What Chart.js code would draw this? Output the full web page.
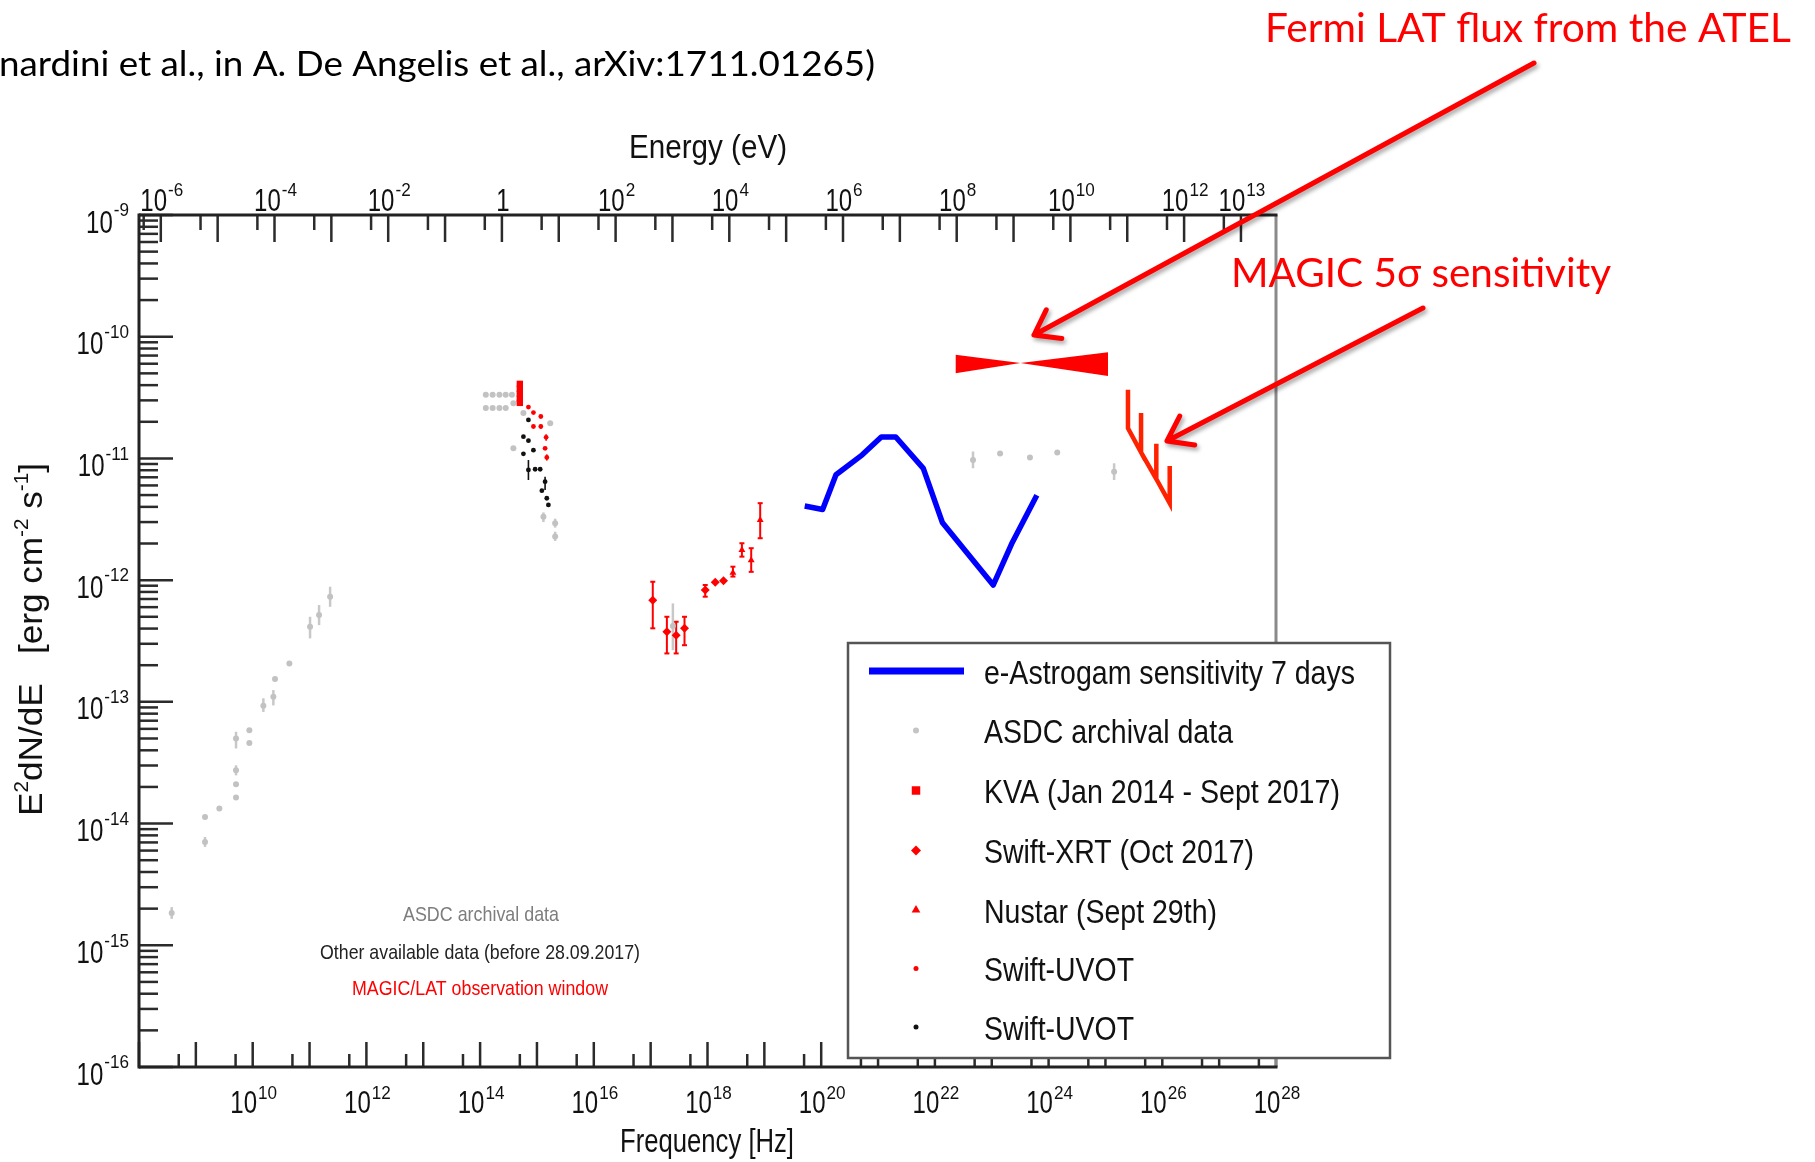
<!DOCTYPE html>
<html>
<head>
<meta charset="utf-8">
<script src="https://cdn.jsdelivr.net/npm/chart.js@4.4.0/dist/chart.umd.min.js"></script>
<style>
  html, body { margin: 0; padding: 0; background: #fff; }
  canvas { display: block; }
</style>
</head>
<body>
<canvas id="sed" width="1815" height="1162"></canvas>
<script>
  // ---- data (frequency in Hz, E^2 dN/dE in erg cm^-2 s^-1) ----

  // ASDC archival data (grey)
  const asdcNu = [2.30e11, 1.47e11, 1.02e11, 4.42e10, 2.47e10, 2.31e10, 1.54e10, 8.73e9, 8.73e9, 5.09e9, 5.09e9, 5.09e9, 5.09e9, 2.59e9, 1.45e9, 1.45e9, 3.76e8,
                  1.26e14, 1.66e14, 2.19e14, 2.82e14, 3.63e14, 1.26e14, 1.66e14, 2.19e14, 2.82e14, 3.85e14, 5.78e14, 1.71e15, 3.85e14, 1.30e15, 2.09e15, 2.09e15,
                  2.46e17,
                  4.68e22, 1.40e23, 4.70e23, 1.42e24, 1.42e25];
  const asdcF = [7.29e-13, 5.16e-13, 4.14e-13, 2.07e-13, 1.54e-13, 1.10e-13, 9.27e-14, 5.85e-14, 4.60e-14, 5.00e-14, 2.74e-14, 2.10e-14, 1.64e-14, 1.33e-14, 1.13e-14, 7.06e-15, 1.84e-15,
                 3.33e-11, 3.33e-11, 3.33e-11, 3.33e-11, 3.33e-11, 2.59e-11, 2.59e-11, 2.59e-11, 2.59e-11, 2.84e-11, 2.36e-11, 1.95e-11, 1.21e-11, 3.32e-12, 2.93e-12, 2.28e-12,
                 4.19e-13,
                 9.73e-12, 1.10e-11, 1.02e-11, 1.12e-11, 7.78e-12];
  const asdcLo = [6.04e-13, 4.27e-13, 3.32e-13, null, null, 9.35e-14, 8.26e-14, null, null, 4.14e-14, 2.49e-14, null, null, null, null, 6.43e-15, 1.65e-15,
                  null, null, null, null, null, null, null, null, null, null, null, null, null, 3.00e-12, 2.70e-12, 2.10e-12,
                  2.66e-13,
                  8.30e-12, null, null, null, 6.65e-12];
  const asdcHi = [8.83e-13, 6.24e-13, 5.00e-13, null, null, 1.25e-13, 1.07e-13, null, null, 5.68e-14, 3.01e-14, null, null, null, null, 7.76e-15, 2.06e-15,
                  null, null, null, null, null, null, null, null, null, null, null, null, null, 3.60e-12, 3.20e-12, 2.50e-12,
                  6.44e-13,
                  1.14e-11, null, null, null, 9.12e-12];

  // KVA (Jan 2014 - Sept 2017)
  const kvaNu = [5.00e14, 5.00e14, 5.00e14, 5.00e14, 5.00e14];
  const kvaF = [4.10e-11, 3.73e-11, 3.40e-11, 3.09e-11, 2.86e-11];

  // Swift-XRT (Oct 2017)
  const xrtNu = [1.09e17, 1.93e17, 2.81e17, 3.94e17, 9.12e17, 1.37e18, 1.91e18];
  const xrtF = [6.85e-13, 3.77e-13, 3.53e-13, 4.02e-13, 8.30e-13, 9.59e-13, 9.89e-13];
  const xrtLo = [4.02e-13, 2.50e-13, 2.50e-13, 2.92e-13, 7.31e-13, null, null];
  const xrtHi = [9.70e-13, 5.00e-13, 4.55e-13, 5.00e-13, 9.12e-13, null, null];

  // Nustar (Sept 29th)
  const nustarNu = [2.80e18, 4.03e18, 5.87e18, 8.45e18];
  const nustarF = [1.15e-12, 1.77e-12, 1.46e-12, 3.12e-12];
  const nustarLo = [1.07e-12, 1.56e-12, 1.17e-12, 2.21e-12];
  const nustarHi = [1.29e-12, 2.01e-12, 1.83e-12, 4.29e-12];

  // Swift-UVOT (red, observation window)
  const uvotRedNu = [7.08e14, 8.67e14, 1.17e15, 1.17e15, 8.67e14, 1.45e15, 1.39e15, 1.49e15];
  const uvotRedF = [2.64e-11, 2.38e-11, 2.21e-11, 1.83e-11, 1.83e-11, 1.49e-11, 1.21e-11, 1.02e-11];
  const uvotRedLo = [null, null, null, 1.76e-11, null, 1.40e-11, null, 9.60e-12];
  const uvotRedHi = [null, null, null, 1.90e-11, null, 1.58e-11, null, 1.08e-11];

  // Swift-UVOT (black, earlier data)
  const uvotBlkNu = [7.08e14, 5.78e14, 7.08e14, 8.67e14, 5.78e14, 7.08e14, 9.29e14, 1.14e15, 1.39e15, 1.22e15, 1.49e15, 1.59e15];
  const uvotBlkF = [2.07e-11, 1.51e-11, 1.40e-11, 1.17e-11, 1.09e-11, 8.04e-12, 8.15e-12, 8.15e-12, 6.44e-12, 5.43e-12, 4.71e-12, 4.15e-12];
  const uvotBlkLo = [null, null, null, null, null, 6.65e-12, null, null, 5.51e-12, null, null, null];
  const uvotBlkHi = [null, null, null, null, null, 9.70e-12, null, null, 7.08e-12, null, null, null];

  // e-Astrogam sensitivity 7 days
  const astroNu = [5.13e19, 1.06e20, 1.82e20, 5.27e20, 1.14e21, 2.05e21, 6.25e21, 1.35e22, 1.06e23, 2.30e23, 6.21e23];
  const astroF = [4.06e-12, 3.81e-12, 7.35e-12, 1.07e-11, 1.50e-11, 1.50e-11, 8.28e-12, 2.98e-12, 9.12e-13, 2.04e-12, 4.99e-12];

  // Fermi LAT butterfly
  const fermiNu = [2.30e22, 3.20e23, 1.11e25];
  const fermiUp = [7.10e-11, 6.07e-11, 7.46e-11];
  const fermiLow = [5.02e-11, 6.07e-11, 4.76e-11];

  // MAGIC 5 sigma sensitivity
  const magicNu = [2.49e25, 4.23e25, 7.85e25, 1.35e26];
  const magicTop = [3.66e-11, 2.36e-11, 1.32e-11, 8.67e-12];
  const magicBottom = [1.77e-11, 1.12e-11, 6.78e-12, 4.29e-12];

  // axis labels
  const yLabelExp = [-9, -10, -11, -12, -13, -14, -15, -16];
  const xLabelExp = [10, 12, 14, 16, 18, 20, 22, 24, 26, 28];
  const eLabelExp = [-6, -4, -2, 0, 2, 4, 6, 8, 10, 12, 13];

  const legendLabels = ['e-Astrogam sensitivity 7 days', 'ASDC archival data', 'KVA (Jan 2014 - Sept 2017)',
                        'Swift-XRT (Oct 2017)', 'Nustar (Sept 29th)', 'Swift-UVOT', 'Swift-UVOT'];

  const EV_TO_HZ = 2.418e14;
  const ROOT_FONT = '"Liberation Sans", Arial, sans-serif';
  const NOTE_FONT = 'Lato, "Open Sans", sans-serif';

  const pts = (nu, f, lo, hi) => nu.map((v, i) => ({ x: v, y: f[i], lo: lo ? lo[i] : null, hi: hi ? hi[i] : null }));

  // MAGIC sawtooth: verticals hanging from the top values down to the diagonal
  const magicPath = [];
  magicNu.forEach((v, i) => {
    if (i === 0) {
      magicPath.push({ x: v, y: magicTop[i] }, { x: v, y: magicBottom[i] });
    } else {
      magicPath.push({ x: v, y: magicBottom[i] }, { x: v, y: magicTop[i] });
      if (i < magicNu.length - 1) magicPath.push({ x: v, y: magicBottom[i] });
    }
  });

  // text helper: horizontal squeeze like the stretched ROOT picture
  function txt(ctx, s, x, y, o) {
    ctx.save();
    ctx.font = o.font;
    ctx.fillStyle = o.color || '#111';
    ctx.textAlign = 'left';
    ctx.textBaseline = 'alphabetic';
    const w = ctx.measureText(s).width;
    const sx = o.width ? o.width / w : (o.sx || 1);
    let x0 = x;
    if (o.align === 'center') x0 = x - w * sx / 2;
    if (o.align === 'right') x0 = x - w * sx;
    ctx.translate(x0, y);
    ctx.scale(sx, 1);
    ctx.fillText(s, 0, 0);
    ctx.restore();
  }

  // "10^n" label, base digits centred at cy
  function powLabel(ctx, exp, xa, cy, align, raise) {
    ctx.save();
    const bf = '32px ' + ROOT_FONT, ef = '19px ' + ROOT_FONT;
    const bsx = 0.75, esx = 0.9;
    if (exp === 0) {
      txt(ctx, '1', xa, cy + 11.5, { font: bf, sx: bsx, align: align });
      ctx.restore();
      return;
    }
    ctx.font = bf;
    const wb = ctx.measureText('10').width * bsx;
    ctx.font = ef;
    const es = String(exp);
    const we = ctx.measureText(es).width * esx;
    const total = wb + 1 + we;
    const x0 = align === 'right' ? xa - total : xa - total / 2;
    txt(ctx, '10', x0, cy + 11.5, { font: bf, sx: bsx });
    txt(ctx, es, x0 + wb + 1, cy - raise + 6.8, { font: ef, sx: esx });
    ctx.restore();
  }

  function seg(ctx, x1, y1, x2, y2) {
    ctx.beginPath(); ctx.moveTo(x1, y1); ctx.lineTo(x2, y2); ctx.stroke();
  }

  function arrow(ctx, x1, y1, x2, y2) {
    const ang = Math.atan2(y1 - y2, x1 - x2);
    const L = 28, h = 0.62;
    ctx.beginPath();
    ctx.moveTo(x1, y1); ctx.lineTo(x2, y2);
    ctx.moveTo(x2 + L * Math.cos(ang - h), y2 + L * Math.sin(ang - h));
    ctx.lineTo(x2, y2);
    ctx.lineTo(x2 + L * Math.cos(ang + h), y2 + L * Math.sin(ang + h));
    ctx.stroke();
  }

  // error bars, drawn under the markers
  const errorBars = {
    id: 'errorBars',
    beforeDatasetsDraw(chart) {
      const { ctx, chartArea: a, scales: { x, y } } = chart;
      ctx.save();
      ctx.beginPath(); ctx.rect(a.left, a.top, a.right - a.left, a.bottom - a.top); ctx.clip();
      chart.data.datasets.forEach((ds) => {
        if (!ds.errColor) return;
        ctx.strokeStyle = ds.errColor;
        ctx.lineWidth = ds.errWidth || 2;
        ds.data.forEach((p) => {
          if (p.lo == null) return;
          const px = x.getPixelForValue(p.x);
          const y1 = y.getPixelForValue(p.lo), y2 = y.getPixelForValue(p.hi);
          seg(ctx, px, y1, px, y2);
          if (ds.errCap) { seg(ctx, px - 2.5, y1, px + 2.5, y1); seg(ctx, px - 2.5, y2, px + 2.5, y2); }
        });
      });
      ctx.restore();
    }
  };

  // ROOT-like frame, ticks, labels, legend and the slide annotations
  const decor = {
    id: 'decor',
    afterDatasetsDraw(chart) {
      const { ctx, chartArea: a, scales: { x, y } } = chart;
      ctx.save();
      ctx.lineCap = 'butt';

      // left axis ticks (inside)
      ctx.strokeStyle = '#2b2b2b'; ctx.lineWidth = 2.5;
      for (let e = -16; e <= -9; e++) {
        for (let m = 1; m <= 9; m++) {
          const v = m * Math.pow(10, e);
          if (v > 1.0001e-9) continue;
          const py = y.getPixelForValue(v);
          seg(ctx, a.left, py, a.left + (m === 1 ? 34 : 19), py);
        }
      }
      // bottom ticks
      for (let e = 8; e <= 28; e++) {
        const px = x.getPixelForValue(Math.pow(10, e));
        seg(ctx, px, a.bottom, px, a.bottom - 25);
        if (e < 28) {
          const ps = x.getPixelForValue(5 * Math.pow(10, e));
          seg(ctx, ps, a.bottom, ps, a.bottom - 13);
        }
      }
      // top (energy) ticks
      for (let k = -7; k <= 14; k++) {
        [1, 5].forEach((m) => {
          const nu = m * Math.pow(10, k) * EV_TO_HZ;
          if (nu < 1e8 || nu > 1e28) return;
          const px = x.getPixelForValue(nu);
          seg(ctx, px, a.top, px, a.top + (m === 1 ? 27 : 15));
        });
      }

      // frame
      ctx.lineWidth = 3;
      ctx.strokeStyle = '#8a8a8a';
      seg(ctx, a.right, a.top, a.right, a.bottom);
      ctx.strokeStyle = '#222';
      seg(ctx, a.left, a.top, a.right + 1.5, a.top);
      seg(ctx, a.left, a.bottom, a.right + 1.5, a.bottom);
      seg(ctx, a.left, a.top - 1.5, a.left, a.bottom + 1.5);

      // tick labels
      yLabelExp.forEach((e) => powLabel(ctx, e, 129, y.getPixelForValue(Math.pow(10, e)) + 6, 'right', 11.5));
      xLabelExp.forEach((e) => powLabel(ctx, e, x.getPixelForValue(Math.pow(10, e)) + 1, 1101, 'center', 8.5));
      eLabelExp.forEach((e) => powLabel(ctx, e, x.getPixelForValue(Math.pow(10, e) * EV_TO_HZ) + 1, 199, 'center', 10));

      // axis titles
      txt(ctx, 'Energy (eV)', 629, 158, { font: '34px ' + ROOT_FONT, width: 158 });
      txt(ctx, 'Frequency [Hz]', 620, 1152, { font: '34px ' + ROOT_FONT, width: 174 });

      // rotated y title with superscripts
      const runs = [['E', 0], ['2', 1], ['dN/dE', 0], ['   [erg cm', 0], ['-2', 1], [' s', 0], ['-1', 1], [']', 0]];
      const rf = '34px ' + ROOT_FONT, sf = '20px ' + ROOT_FONT;
      let tot = 0;
      runs.forEach((r) => { ctx.font = r[1] ? sf : rf; tot += ctx.measureText(r[0]).width; });
      ctx.save();
      ctx.translate(42, 816);
      ctx.rotate(-Math.PI / 2);
      ctx.scale(353 / tot, 1);
      ctx.fillStyle = '#111';
      let cx = 0;
      runs.forEach((r) => {
        ctx.font = r[1] ? sf : rf;
        ctx.fillText(r[0], cx, r[1] ? -14 : 0);
        cx += ctx.measureText(r[0]).width;
      });
      ctx.restore();

      // notes inside the frame
      txt(ctx, 'ASDC archival data', 403, 921, { font: '21px ' + ROOT_FONT, width: 156, color: '#7d7d7d' });
      txt(ctx, 'Other available data (before 28.09.2017)', 320, 959, { font: '21px ' + ROOT_FONT, width: 320, color: '#222' });
      txt(ctx, 'MAGIC/LAT observation window', 352, 995, { font: '21px ' + ROOT_FONT, width: 256, color: '#ff0000' });

      // legend box
      const lb = { l: 848, t: 643, r: 1390, b: 1058 };
      ctx.fillStyle = '#fff';
      ctx.fillRect(lb.l, lb.t, lb.r - lb.l, lb.b - lb.t);
      ctx.strokeStyle = '#555'; ctx.lineWidth = 2.5;
      ctx.strokeRect(lb.l, lb.t, lb.r - lb.l, lb.b - lb.t);
      const rows = [671, 730.5, 790.5, 850.5, 910, 968.5, 1027];
      const widths = [371, 249, 356, 270, 233, 150, 150];
      ctx.strokeStyle = '#0000ff'; ctx.lineWidth = 7;
      seg(ctx, 869, rows[0], 964, rows[0]);
      const marks = [null,
        { c: '#c4c4c4', s: 'circle', r: 3 },
        { c: '#ff0000', s: 'rect', r: 6 },
        { c: '#ff0000', s: 'rectRot', r: 5 },
        { c: '#ff0000', s: 'triangle', r: 5 },
        { c: '#ff0000', s: 'circle', r: 2.5 },
        { c: '#111111', s: 'circle', r: 2.5 }];
      marks.forEach((m, i) => {
        if (!m) return;
        ctx.fillStyle = m.c; ctx.strokeStyle = m.c;
        Chart.helpers.drawPoint(ctx, { pointStyle: m.s, radius: m.r, rotation: 0, borderWidth: 0 }, 916, rows[i]);
      });
      legendLabels.forEach((s, i) => txt(ctx, s, 984, rows[i] + 12.5, { font: '34px ' + ROOT_FONT, width: widths[i], color: '#111' }));

      // slide annotations
      txt(ctx, 'nardini et al., in A. De Angelis et al., arXiv:1711.01265)', -1, 76, { font: '34px ' + NOTE_FONT, width: 876, color: '#000' });
      txt(ctx, 'Fermi LAT flux from the ATEL', 1265, 42, { font: '40px ' + NOTE_FONT, width: 526, color: '#ff0000' });
      txt(ctx, 'MAGIC 5σ sensitivity', 1231, 287, { font: '40px ' + NOTE_FONT, width: 380, color: '#ff0000' });

      ctx.strokeStyle = '#ff0000'; ctx.lineWidth = 5; ctx.lineCap = 'round'; ctx.lineJoin = 'round';
      ctx.shadowColor = 'rgba(0,0,0,0.35)'; ctx.shadowBlur = 4; ctx.shadowOffsetX = 2; ctx.shadowOffsetY = 3;
      arrow(ctx, 1534, 63, 1034, 335);
      arrow(ctx, 1423, 308, 1167, 441);
      ctx.restore();
    }
  };

  const red = '#ff0000';
  new Chart(document.getElementById('sed'), {
    type: 'line',
    data: {
      datasets: [
        { label: 'Swift-UVOT', data: pts(uvotBlkNu, uvotBlkF, uvotBlkLo, uvotBlkHi), showLine: false,
          pointStyle: 'circle', pointRadius: 2.4, pointBackgroundColor: '#111', pointBorderWidth: 0, errColor: '#111', errWidth: 1.6 },
        { label: 'Swift-UVOT (red)', data: pts(uvotRedNu, uvotRedF, uvotRedLo, uvotRedHi), showLine: false,
          pointStyle: 'circle', pointRadius: 2.4, pointBackgroundColor: red, pointBorderWidth: 0, errColor: red, errWidth: 1.6 },
        { label: 'KVA', data: pts(kvaNu, kvaF), showLine: false,
          pointStyle: 'rect', pointRadius: 4.5, pointBackgroundColor: red, pointBorderWidth: 0 },
        { label: 'Swift-XRT', data: pts(xrtNu, xrtF, xrtLo, xrtHi), showLine: false,
          pointStyle: 'rectRot', pointRadius: 4.5, pointBackgroundColor: red, pointBorderWidth: 0, errColor: red, errWidth: 2, errCap: true },
        { label: 'Nustar', data: pts(nustarNu, nustarF, nustarLo, nustarHi), showLine: false,
          pointStyle: 'triangle', pointRadius: 4, pointBackgroundColor: red, pointBorderWidth: 0, errColor: red, errWidth: 2, errCap: true },
        { label: 'MAGIC 5 sigma', data: magicPath, borderColor: '#ff2200', borderWidth: 4.5, pointRadius: 0,
          tension: 0, fill: false, borderJoinStyle: 'miter', borderCapStyle: 'butt' },
        { label: 'e-Astrogam sensitivity 7 days', data: pts(astroNu, astroF), borderColor: '#0000ff', borderWidth: 5.5,
          pointRadius: 0, tension: 0, fill: false, borderJoinStyle: 'round' },
        { label: 'Fermi LAT upper', data: pts(fermiNu, fermiUp), borderWidth: 0, borderColor: red,
          backgroundColor: red, pointRadius: 0, tension: 0, fill: '+1' },
        { label: 'Fermi LAT lower', data: pts(fermiNu, fermiLow), borderWidth: 0, borderColor: red,
          pointRadius: 0, tension: 0, fill: false },
        { label: 'ASDC archival data', data: pts(asdcNu, asdcF, asdcLo, asdcHi), showLine: false,
          pointStyle: 'circle', pointRadius: 3, pointBackgroundColor: '#c2c2c2', pointBorderWidth: 0, errColor: '#c8c8c8', errWidth: 2.5 }
      ]
    },
    options: {
      responsive: false,
      animation: false,
      devicePixelRatio: 1,
      layout: { padding: { left: 139, right: 539, top: 215, bottom: 95 } },
      scales: {
        x: { type: 'logarithmic', min: 1e8, max: 1e28, display: false },
        y: { type: 'logarithmic', min: 1e-16, max: 1e-9, display: false }
      },
      plugins: {
        legend: { display: false },
        tooltip: { enabled: false }
      }
    },
    plugins: [errorBars, decor]
  });
</script>
</body>
</html>
